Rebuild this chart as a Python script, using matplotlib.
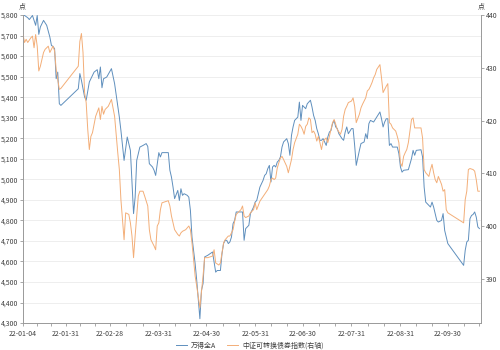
import matplotlib
matplotlib.use("Agg")
import matplotlib.pyplot as plt
import pandas as pd
from matplotlib.ticker import FuncFormatter

plt.rcParams['font.family'] = ['Noto Sans CJK SC', 'DejaVu Sans']
plt.rcParams['font.size'] = 5

# 万得全A (left axis)
wind_dates = [
    "01-04", "01-05", "01-07", "01-08", "01-10", "01-12", "01-13", "01-14", "01-15", "01-17",
    "01-19", "01-21", "01-22", "01-23", "01-24", "01-25", "01-26", "01-27", "01-28", "02-08",
    "02-09", "02-10", "02-12", "02-13", "02-15", "02-18", "02-20", "02-21", "02-22", "02-23",
    "02-24", "02-26", "03-01", "03-03", "03-06", "03-07", "03-09", "03-11", "03-13", "03-15",
    "03-16", "03-17", "03-19", "03-21", "03-23", "03-24", "03-25", "03-27", "03-28", "03-29",
    "03-31", "04-01", "04-02", "04-06", "04-07", "04-08", "04-09", "04-10", "04-12", "04-13",
    "04-14", "04-15", "04-16", "04-18", "04-19", "04-20", "04-21", "04-22", "04-23", "04-24",
    "04-26", "04-27", "04-28", "04-29", "05-01", "05-04", "05-06", "05-07", "05-09", "05-10",
    "05-11", "05-12", "05-13", "05-14", "05-15", "05-16", "05-17", "05-18", "05-19", "05-23",
    "05-24", "05-25", "05-27", "05-28", "05-30", "05-31", "06-01", "06-02", "06-03", "06-05",
    "06-06", "06-07", "06-08", "06-09", "06-10", "06-11", "06-12", "06-13", "06-14", "06-15",
    "06-16", "06-17", "06-18", "06-20", "06-21", "06-22", "06-23", "06-24", "06-25", "06-27",
    "06-28", "06-29", "06-30", "07-02", "07-03", "07-05", "07-06", "07-07", "07-08", "07-09",
    "07-10", "07-11", "07-12", "07-13", "07-15", "07-16", "07-17", "07-18", "07-19", "07-20",
    "07-21", "07-22", "07-23", "07-25", "07-26", "07-27", "07-28", "07-29", "07-31", "08-01",
    "08-02", "08-03", "08-05", "08-06", "08-08", "08-09", "08-10", "08-11", "08-12", "08-14",
    "08-16", "08-18", "08-19", "08-20", "08-21", "08-22", "08-23", "08-24", "08-25", "08-26",
    "08-29", "08-30", "08-31", "09-01", "09-02", "09-05", "09-07", "09-08", "09-09", "09-10",
    "09-13", "09-14", "09-15", "09-16", "09-17", "09-19", "09-20", "09-21", "09-22", "09-23",
    "09-24", "09-26", "09-27", "09-28", "09-29", "09-30", "10-10", "10-11", "10-12", "10-13",
    "10-14", "10-15", "10-16", "10-17", "10-18", "10-19", "10-20",
]
wind_vals = [
    5800, 5798, 5787, 5778, 5798, 5750, 5798, 5706, 5742, 5774,
    5750, 5693, 5652, 5647, 5636, 5490, 5522, 5368, 5360, 5441,
    5515, 5482, 5401, 5385, 5474, 5522, 5534, 5490, 5547, 5446,
    5490, 5498, 5539, 5466, 5303, 5238, 5092, 5206, 5141, 4833,
    4913, 5092, 5157, 5165, 5174, 5160, 5076, 5060, 5044, 5019,
    5130, 5109, 5130, 5130, 5044, 5011, 4962, 4906, 4946, 4897,
    4954, 4922, 4930, 4922, 4913, 4849, 4719, 4654, 4589, 4508,
    4321, 4459, 4492, 4622, 4630, 4646, 4548, 4556, 4556, 4638,
    4687, 4703, 4703, 4687, 4695, 4719, 4784, 4800, 4841, 4841,
    4703, 4760, 4776, 4833, 4865, 4889, 4897, 4930, 4962, 4995,
    5019, 5027, 5052, 5068, 4987, 5060, 5068, 5060, 5084, 5092,
    5109, 5157, 5182, 5198, 5174, 5117, 5214, 5255, 5287, 5303,
    5376, 5287, 5360, 5344, 5368, 5385, 5352, 5311, 5287, 5247,
    5222, 5190, 5190, 5198, 5165, 5206, 5230, 5238, 5271, 5287,
    5255, 5247, 5222, 5198, 5190, 5230, 5255, 5222, 5247, 5247,
    5165, 5068, 5141, 5174, 5182, 5222, 5198, 5271, 5287, 5279,
    5303, 5328, 5295, 5255, 5279, 5295, 5295, 5165, 5174, 5157,
    5157, 5125, 5060, 5035, 5044, 5047, 5101, 5141, 5117, 5141,
    5144, 5109, 4962, 4889, 4881, 4865, 4889, 4865, 4833, 4800,
    4792, 4800, 4833, 4751, 4719, 4687, 4581, 4654, 4695, 4703,
    4808, 4824, 4829, 4841, 4816, 4768, 4760,
]

# 中证可转换债券指数 (right axis)
cb_dates = [
    "01-04", "01-05", "01-06", "01-07", "01-09", "01-10", "01-11", "01-12", "01-13", "01-14",
    "01-15", "01-17", "01-18", "01-20", "01-21", "01-22", "01-23", "01-24", "01-25", "01-26",
    "01-27", "01-28", "02-08", "02-09", "02-10", "02-11", "02-12", "02-13", "02-14", "02-15",
    "02-16", "02-17", "02-19", "02-21", "02-22", "02-23", "02-24", "02-25", "02-27", "03-01",
    "03-03", "03-05", "03-06", "03-07", "03-09", "03-10", "03-12", "03-13", "03-14", "03-15",
    "03-16", "03-18", "03-19", "03-21", "03-22", "03-24", "03-25", "03-26", "03-28", "03-29",
    "03-30", "03-31", "04-01", "04-02", "04-06", "04-07", "04-08", "04-09", "04-10", "04-12",
    "04-13", "04-14", "04-15", "04-17", "04-19", "04-20", "04-21", "04-22", "04-23", "04-24",
    "04-26", "04-27", "04-28", "04-29", "05-01", "05-04", "05-05", "05-06", "05-08", "05-09",
    "05-10", "05-11", "05-12", "05-14", "05-15", "05-16", "05-17", "05-18", "05-19", "05-22",
    "05-23", "05-24", "05-25", "05-27", "05-28", "05-30", "05-31", "06-01", "06-03", "06-06",
    "06-08", "06-09", "06-10", "06-11", "06-12", "06-13", "06-14", "06-15", "06-16", "06-17",
    "06-18", "06-20", "06-21", "06-23", "06-24", "06-25", "06-27", "06-28", "06-29", "06-30",
    "07-01", "07-02", "07-03", "07-04", "07-05", "07-06", "07-07", "07-08", "07-09", "07-10",
    "07-11", "07-12", "07-13", "07-15", "07-16", "07-17", "07-18", "07-19", "07-20", "07-21",
    "07-22", "07-24", "07-25", "07-26", "07-27", "07-28", "07-29", "07-31", "08-01", "08-02",
    "08-03", "08-05", "08-06", "08-07", "08-08", "08-09", "08-10", "08-11", "08-12", "08-13",
    "08-14", "08-15", "08-16", "08-18", "08-19", "08-20", "08-21", "08-22", "08-23", "08-24",
    "08-25", "08-26", "08-28", "08-29", "08-30", "08-31", "09-01", "09-02", "09-03", "09-04",
    "09-05", "09-07", "09-08", "09-09", "09-12", "09-13", "09-14", "09-15", "09-16", "09-18",
    "09-19", "09-20", "09-21", "09-22", "09-23", "09-24", "09-26", "09-27", "09-28", "09-29",
    "09-30", "10-10", "10-11", "10-12", "10-13", "10-14", "10-15", "10-16", "10-17", "10-18",
    "10-19", "10-20",
]
cb_vals = [
    436.3, 434.8, 435.4, 434.8, 435.7, 436.0, 433.8, 436.3, 434.1, 429.4,
    430.3, 432.9, 433.5, 434.1, 432.9, 433.5, 434.1, 433.2, 429.7, 427.8,
    425.9, 426.1, 430.3, 435.0, 436.5, 432.9, 425.3, 423.4, 418.3, 414.5,
    417.0, 417.7, 420.8, 422.4, 420.2, 422.7, 421.2, 422.1, 422.7, 424.0,
    420.8, 413.9, 410.7, 405.0, 397.4, 402.5, 402.2, 400.6, 398.1, 394.0,
    398.1, 405.7, 406.6, 406.6, 405.7, 403.8, 399.3, 397.4, 396.2, 395.5,
    400.0, 400.6, 403.1, 404.4, 404.8, 403.8, 401.9, 400.6, 399.3, 398.4,
    398.1, 398.7, 399.0, 399.3, 400.0, 399.3, 396.8, 393.6, 390.5, 388.6,
    384.5, 387.5, 390.5, 394.0, 394.0, 394.3, 395.5, 393.0, 392.6, 393.0,
    394.9, 396.8, 397.4, 398.1, 398.1, 398.7, 399.3, 400.9, 402.2, 403.1,
    403.8, 401.9, 401.6, 401.9, 402.5, 403.1, 404.4, 403.1, 404.7, 406.0,
    406.9, 407.6, 408.8, 409.1, 408.8, 409.1, 411.0, 412.0, 412.9, 413.2,
    412.6, 411.3, 410.1, 412.6, 414.5, 415.8, 417.4, 419.3, 418.9, 418.3,
    417.4, 418.9, 419.3, 420.5, 420.2, 417.7, 418.0, 417.4, 416.1, 417.0,
    415.8, 414.5, 416.1, 416.7, 415.8, 417.0, 418.3, 419.6, 420.2, 419.3,
    418.3, 417.4, 418.3, 420.8, 422.1, 422.7, 423.4, 423.7, 424.3, 422.7,
    419.6, 421.2, 422.4, 423.1, 423.7, 424.3, 425.6, 425.9, 426.5, 427.2,
    428.1, 428.7, 429.7, 430.6, 428.1, 425.3, 425.9, 426.5, 427.0, 419.6,
    419.3, 418.6, 418.0, 417.0, 415.8, 412.0, 411.3, 413.2, 413.9, 414.5,
    415.8, 420.2, 420.5, 418.6, 418.6, 418.6, 416.7, 410.7, 410.1, 409.4,
    410.7, 411.7, 410.1, 408.8, 408.2, 409.4, 407.9, 406.6, 406.9, 403.1,
    402.5, 400.6, 405.0, 406.6, 410.7, 410.9, 410.8, 410.7, 410.4, 408.8,
    406.6, 406.6,
]

xtick_labels = ["22-01-04", "22-01-31", "22-02-28", "22-03-31", "22-04-30",
                "22-05-31", "22-06-30", "22-07-31", "22-08-31", "22-09-30"]
left_ticks = list(range(4300, 5801, 100))
right_ticks = [390, 400, 410, 420, 430, 440]

BLUE = "#5f8fbd"
ORANGE = "#f3ae78"
AXIS = "#9a9a9a"
TEXT = "#404040"

wd = pd.to_datetime(["2022-" + d for d in wind_dates])
cd = pd.to_datetime(["2022-" + d for d in cb_dates])
major = pd.to_datetime(["20" + s for s in xtick_labels])

# small ticks: each gap between labels split in three
minor = []
for a, b in zip(major[:-1], major[1:]):
    step = (b - a) / 3
    minor += [a + step, a + 2 * step]
minor += [major[-1] + step, major[-1] + 2 * step]

fig = plt.figure(figsize=(5, 3.5), dpi=100)
ax = fig.add_axes([0.046, 0.077, 0.916, 0.88])
ax2 = ax.twinx()

ax.plot(wd, wind_vals, color=BLUE, lw=0.7, label="万得全A")
ax2.plot(cd, cb_vals, color=ORANGE, lw=0.7, label="中证可转换债券指数(右轴)")

ax.set_xlim(pd.Timestamp("2022-01-04"), pd.Timestamp("2022-10-21"))
ax.set_ylim(4300, 5800)
ax2.set_ylim(381.6, 440)

ax.set_xticks(major)
ax.set_xticklabels(xtick_labels)
ax.set_xticks(minor, minor=True)
ax.set_yticks(left_ticks)
ax.yaxis.set_major_formatter(FuncFormatter(lambda v, p: f"{v:,.0f}"))
ax2.set_yticks(right_ticks)

ax.grid(axis="y", color="#ebebeb", lw=0.6)
ax.set_axisbelow(True)

for a in (ax, ax2):
    a.spines["top"].set_visible(False)
    for s in ("left", "right", "bottom"):
        a.spines[s].set_color(AXIS)
        a.spines[s].set_linewidth(0.6)
    a.tick_params(which="both", colors=AXIS, labelcolor=TEXT, width=0.6,
                  length=2, pad=1.5, labelsize=5)
ax.tick_params(axis="x", pad=3)

fig.text(0.044, 0.983, "点", fontsize=5, color=TEXT, ha="center", va="center")
fig.text(0.962, 0.983, "点", fontsize=5, color=TEXT, ha="center", va="center")

h1, l1 = ax.get_legend_handles_labels()
h2, l2 = ax2.get_legend_handles_labels()
fig.legend(h1 + h2, l1 + l2, loc="center", bbox_to_anchor=(0.5, 0.012),
           ncol=2, frameon=False, fontsize=5, handlelength=1.5,
           handletextpad=0.6, columnspacing=1.6, labelcolor=TEXT)

fig.savefig("out.png", dpi=100)
